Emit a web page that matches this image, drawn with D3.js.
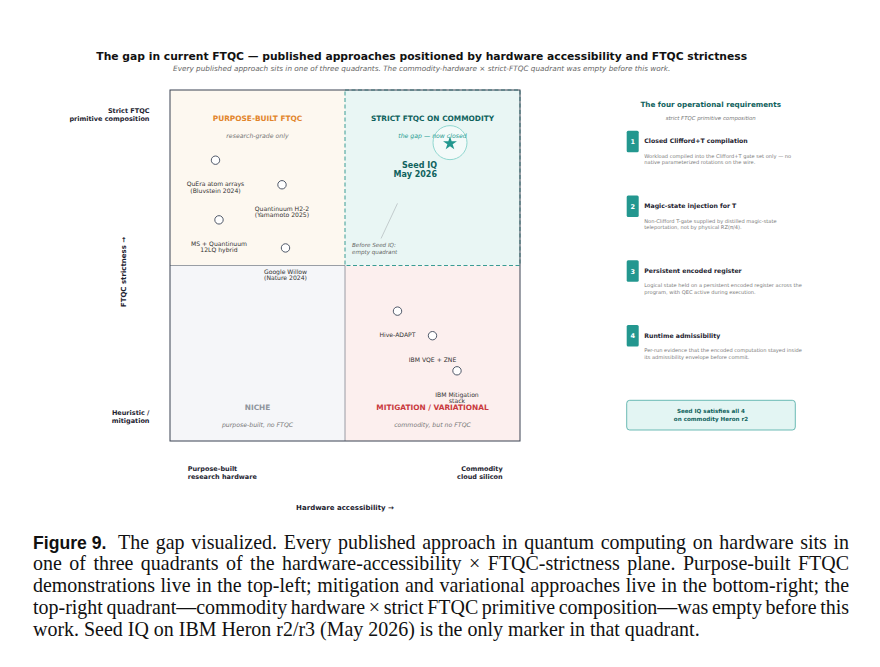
<!DOCTYPE html>
<html>
<head>
<meta charset="utf-8">
<script src="https://cdn.jsdelivr.net/npm/d3@7"></script>
<style>
  body { margin: 0; background: #fff; }
  svg { display: block; font-family: "DejaVu Sans", sans-serif; }
</style>
</head>
<body>
<svg id="chart" width="880" height="667"></svg>
<script>
// ---- data ----
const approachNames = [
  'QuEra atom arrays\n(Bluvstein 2024)',
  'Quantinuum H2-2\n(Yamamoto 2025)',
  'MS + Quantinuum\n12LQ hybrid',
  'Google Willow\n(Nature 2024)',
  'Hive-ADAPT',
  'IBM VQE + ZNE',
  'IBM Mitigation\nstack'
];
const accessibility = [1.3, 3.2, 1.4, 3.3, 6.5, 7.5, 8.2];
const strictness    = [8.0, 7.3, 6.3, 5.5, 3.7, 3.0, 2.0];

const seedName = 'Seed IQ\nMay 2026';
const seedPoint = [8.0, 8.5];

const quadrantKeys   = ['tl', 'tr', 'bl', 'br'];
const quadrantTitles = ['PURPOSE-BUILT FTQC', 'STRICT FTQC ON COMMODITY', 'NICHE', 'MITIGATION / VARIATIONAL'];
const quadrantNotes  = ['research-grade only', 'the gap \u2014 now closed', 'purpose-built, no FTQC', 'commodity, but no FTQC'];

const yEndLabels = ['Strict FTQC\nprimitive composition', 'Heuristic /\nmitigation'];
const xEndLabels = ['Purpose-built\nresearch hardware', 'Commodity\ncloud silicon'];
const xAxisTitle = 'Hardware accessibility \u2192';
const yAxisTitle = 'FTQC strictness \u2192';

const chartTitle = 'The gap in current FTQC \u2014 published approaches positioned by hardware accessibility and FTQC strictness';
const chartSubtitle = 'Every published approach sits in one of three quadrants. The commodity-hardware \u00d7 strict-FTQC quadrant was empty before this work.';

const reqTitles = [
  'Closed Clifford+T compilation',
  'Magic-state injection for T',
  'Persistent encoded register',
  'Runtime admissibility'
];
const reqDescs = [
  ['Workload compiled into the Clifford+T gate set only \u2014 no', 'native parameterized rotations on the wire.'],
  ['Non-Clifford T-gate supplied by distilled magic-state', 'teleportation, not by physical RZ(\u03c0/4).'],
  ['Logical state held on a persistent encoded register across the', 'program, with QEC active during execution.'],
  ['Per-run evidence that the encoded computation stayed inside', 'its admissibility envelope before commit.']
];
const panelTitle = 'The four operational requirements';
const panelSub = 'strict FTQC primitive composition';
const panelVerdict = ['Seed IQ satisfies all 4', 'on commodity Heron r2'];

const captionLines = [
  'The gap visualized. Every published approach in quantum computing on hardware sits in',
  'one of three quadrants of the hardware-accessibility \u00d7 FTQC-strictness plane. Purpose-built FTQC',
  'demonstrations live in the top-left; mitigation and variational approaches live in the bottom-right; the',
  'top-right quadrant\u2014commodity hardware \u00d7 strict FTQC primitive composition\u2014was empty before this',
  'work. Seed IQ on IBM Heron r2/r3 (May 2026) is the only marker in that quadrant.'
];

// ---- styles ----
const teal = '#0f625d', tealMid = '#23978f';
const qStyle = {
  tl: { fill: '#fdf8f0', title: '#e2852b' },
  tr: { fill: '#e9f6f4', title: teal },
  bl: { fill: '#f5f6f9', title: '#8f949c' },
  br: { fill: '#fcefee', title: '#c93a40' }
};
const qExtent = { tl: [[0, 5], [5, 10]], tr: [[5, 10], [5, 10]], bl: [[0, 5], [0, 5]], br: [[5, 10], [0, 5]] };

const svg = d3.select('#chart');
const x = d3.scaleLinear().domain([0, 10]).range([170, 520]);
const y = d3.scaleLinear().domain([0, 10]).range([441, 90]);

function multiline(sel, str, lh) {
  str.split('\n').forEach((s, i) => sel.append('tspan').attr('x', sel.attr('x')).attr('dy', i ? lh : 0).text(s));
  return sel;
}

// title
svg.append('text').attr('x', 421.7).attr('y', 59.5).attr('text-anchor', 'middle')
  .style('font-size', '10.75px').style('font-weight', 'bold').style('fill', '#111').text(chartTitle);
svg.append('text').attr('x', 421.7).attr('y', 70.5).attr('text-anchor', 'middle')
  .style('font-size', '7.3px').style('font-style', 'italic').style('fill', '#666').text(chartSubtitle);

// ---- quadrants ----
let plot = svg.append('g').attr('id', 'plot');

plot.selectAll('.quad').data(quadrantKeys)
  .join('rect')
  .attr('class', 'quad')
  .attr('x', k => x(qExtent[k][0][0]))
  .attr('y', k => y(qExtent[k][1][1]))
  .attr('width', k => x(qExtent[k][0][1]) - x(qExtent[k][0][0]))
  .attr('height', k => y(qExtent[k][1][0]) - y(qExtent[k][1][1]))
  .style('fill', k => qStyle[k].fill);

// gray midlines (solid parts)
plot.append('line').attr('x1', x(5)).attr('x2', x(5)).attr('y1', y(5)).attr('y2', y(0))
  .style('stroke', '#80868f').style('stroke-width', 0.8);
plot.append('line').attr('x1', x(0)).attr('x2', x(5)).attr('y1', y(5)).attr('y2', y(5))
  .style('stroke', '#80868f').style('stroke-width', 0.8);

// dashed border on the target quadrant
plot.append('rect')
  .attr('x', x(5)).attr('y', y(10))
  .attr('width', x(10) - x(5)).attr('height', y(5) - y(10))
  .style('fill', 'none').style('stroke', '#3a9c94').style('stroke-width', 1)
  .style('stroke-dasharray', '4,2.5');

// frame
plot.append('rect')
  .attr('x', x(0)).attr('y', y(10))
  .attr('width', x(10) - x(0)).attr('height', y(0) - y(10))
  .style('fill', 'none').style('stroke', '#3b4352').style('stroke-width', 1);

// Seed IQ halo sits under the quadrant note
plot.append('circle')
  .attr('cx', x(seedPoint[0])).attr('cy', y(seedPoint[1])).attr('r', 17)
  .style('fill', '#ffffff').style('fill-opacity', 0.45)
  .style('stroke', '#86d2cb').style('stroke-width', 0.9);

// quadrant titles and notes
plot.selectAll('.qtitle').data(quadrantKeys)
  .join('text')
  .attr('class', 'qtitle')
  .attr('x', k => x((qExtent[k][0][0] + qExtent[k][0][1]) / 2))
  .attr('y', k => qExtent[k][1][1] === 10 ? y(10) + 31 : y(0) - 31.5)
  .attr('text-anchor', 'middle')
  .style('font-size', '7.4px').style('font-weight', 'bold')
  .style('fill', k => qStyle[k].title)
  .text((k, i) => quadrantTitles[i]);

plot.selectAll('.qnote').data(quadrantKeys)
  .join('text')
  .attr('class', 'qnote')
  .attr('x', k => x((qExtent[k][0][0] + qExtent[k][0][1]) / 2))
  .attr('y', k => qExtent[k][1][1] === 10 ? y(10) + 48 : y(0) - 14)
  .attr('text-anchor', 'middle')
  .style('font-size', '6.2px').style('font-style', 'italic')
  .style('fill', k => k === 'tr' ? '#2a9d93' : '#777')
  .text((k, i) => quadrantNotes[i]);

// "before" annotation
plot.append('line')
  .attr('x1', x(6.5)).attr('y1', y(6.77))
  .attr('x2', x(6.03)).attr('y2', y(5.77))
  .style('stroke', '#a8aeb2').style('stroke-width', 0.6);
multiline(plot.append('text').attr('x', x(5.2)).attr('y', y(5.52))
  .style('font-size', '5.6px').style('font-style', 'italic').style('fill', '#666'),
  'Before Seed IQ:\nempty quadrant', 6.4);

// ---- approach markers ----
const approaches = approachNames.map((n, i) => ({ name: n, ax: accessibility[i], st: strictness[i] }));

plot.selectAll('.pt').data(approaches)
  .join('circle')
  .attr('class', 'pt')
  .attr('cx', d => x(d.ax)).attr('cy', d => y(d.st)).attr('r', 4.2)
  .style('fill', '#fff').style('stroke', '#3c4658').style('stroke-width', 0.9);

plot.selectAll('.ptlabel').data(approaches)
  .join('text')
  .attr('class', 'ptlabel')
  .attr('x', d => x(d.ax)).attr('y', d => y(d.st) + 26)
  .attr('text-anchor', 'middle')
  .style('font-size', '6.1px').style('fill', '#333')
  .each(function (d) { multiline(d3.select(this), d.name, 6.4); });

// ---- Seed IQ star ----
plot.append('path')
  .attr('d', d3.symbol(d3.symbolStar, 60)())
  .attr('transform', `translate(${x(seedPoint[0])},${y(seedPoint[1]) + 0.8})`)
  .style('fill', tealMid);
multiline(plot.append('text')
  .attr('x', x(seedPoint[0]) - 13).attr('y', y(seedPoint[1]) + 25.5)
  .attr('text-anchor', 'end')
  .style('font-size', '8px').style('font-weight', 'bold').style('fill', teal),
  seedName, 9.2);

// ---- axis labels ----
let axes = svg.append('g').attr('id', 'axes').style('font-weight', 'bold').style('fill', '#1d2330');

yEndLabels.forEach((s, i) => {
  multiline(axes.append('text')
    .attr('x', 149.5).attr('y', i === 0 ? 113 : 415)
    .attr('text-anchor', 'end').style('font-size', '6.5px'), s, 7.5);
});
xEndLabels.forEach((s, i) => {
  multiline(axes.append('text')
    .attr('x', i === 0 ? 187.7 : 502.7).attr('y', 471)
    .attr('text-anchor', i === 0 ? 'start' : 'end').style('font-size', '6.5px'), s, 7.5);
});
axes.append('text').attr('x', x(5)).attr('y', 509.5).attr('text-anchor', 'middle')
  .style('font-size', '7px').text(xAxisTitle);
axes.append('text').attr('transform', 'translate(126,272) rotate(-90)').attr('text-anchor', 'middle')
  .style('font-size', '7px').text(yAxisTitle);

// ---- requirements panel ----
let panel = svg.append('g').attr('id', 'panel');
const itemY = d3.scalePoint().domain(d3.range(reqTitles.length)).range([130.7, 325]);

panel.append('text').attr('x', 710.7).attr('y', 106.6).attr('text-anchor', 'middle')
  .style('font-size', '7.2px').style('font-weight', 'bold').style('fill', teal).text(panelTitle);
panel.append('text').attr('x', 710.7).attr('y', 120.2).attr('text-anchor', 'middle')
  .style('font-size', '5.4px').style('font-style', 'italic').style('fill', '#777').text(panelSub);

let items = panel.selectAll('.req').data(reqTitles)
  .join('g')
  .attr('class', 'req')
  .attr('transform', (d, i) => `translate(626.7,${itemY(i)})`);

items.append('rect').attr('width', 12).attr('height', 21.6).attr('rx', 1.5).style('fill', tealMid);
items.append('text').attr('x', 6).attr('y', 13.3).attr('text-anchor', 'middle')
  .style('font-size', '6.5px').style('font-weight', 'bold').style('fill', '#fff')
  .text((d, i) => i + 1);
items.append('text').attr('x', 17.6).attr('y', 12.6)
  .style('font-size', '6.2px').style('font-weight', 'bold').style('fill', '#1d2330')
  .text(d => d);
items.each(function (d, i) {
  reqDescs[i].forEach((line, j) => {
    d3.select(this).append('text').attr('x', 17.6).attr('y', 27.2 + j * 6.4)
      .style('font-size', '5.1px').style('fill', '#7a7a7a').text(line);
  });
});

panel.append('rect').attr('x', 626.7).attr('y', 400.3).attr('width', 168.6).attr('height', 29.7).attr('rx', 3)
  .style('fill', '#e3f5f3').style('stroke', '#49aaa2').style('stroke-width', 0.8);
panelVerdict.forEach((s, i) => {
  panel.append('text').attr('x', 711).attr('y', 413.4 + i * 7.7).attr('text-anchor', 'middle')
    .style('font-size', '5.6px').style('font-weight', 'bold').style('fill', teal).text(s);
});

// ---- caption ----
let cap = svg.append('g').attr('id', 'caption').style('fill', '#111');
const capLeft = 33, capRight = 849, capTop = 548.5, capLead = 21.9;

cap.append('text').attr('x', capLeft).attr('y', capTop)
  .style('font-family', '"Liberation Sans", Arial, sans-serif').style('font-weight', 'bold')
  .style('font-size', '17.6px').text('Figure 9.');

// size the serif so the last (unjustified) line runs to its measured end
let probe = cap.append('text').style('font-family', '"Liberation Serif", serif').style('font-size', '18px')
  .text(captionLines[captionLines.length - 1]);
const capSize = 18 * 667 / probe.node().getComputedTextLength();
probe.remove();

captionLines.forEach((line, i) => {
  const startX = i === 0 ? 118 : capLeft;
  const t = cap.append('text').attr('x', startX).attr('y', capTop + i * capLead)
    .style('font-family', '"Liberation Serif", serif').style('font-size', capSize + 'px')
    .text(line);
  if (i < captionLines.length - 1) {
    const w = t.node().getComputedTextLength();
    const gaps = (line.match(/ /g) || []).length;
    t.attr('word-spacing', (capRight - startX - w) / gaps);
  }
});
</script>
</body>
</html>
